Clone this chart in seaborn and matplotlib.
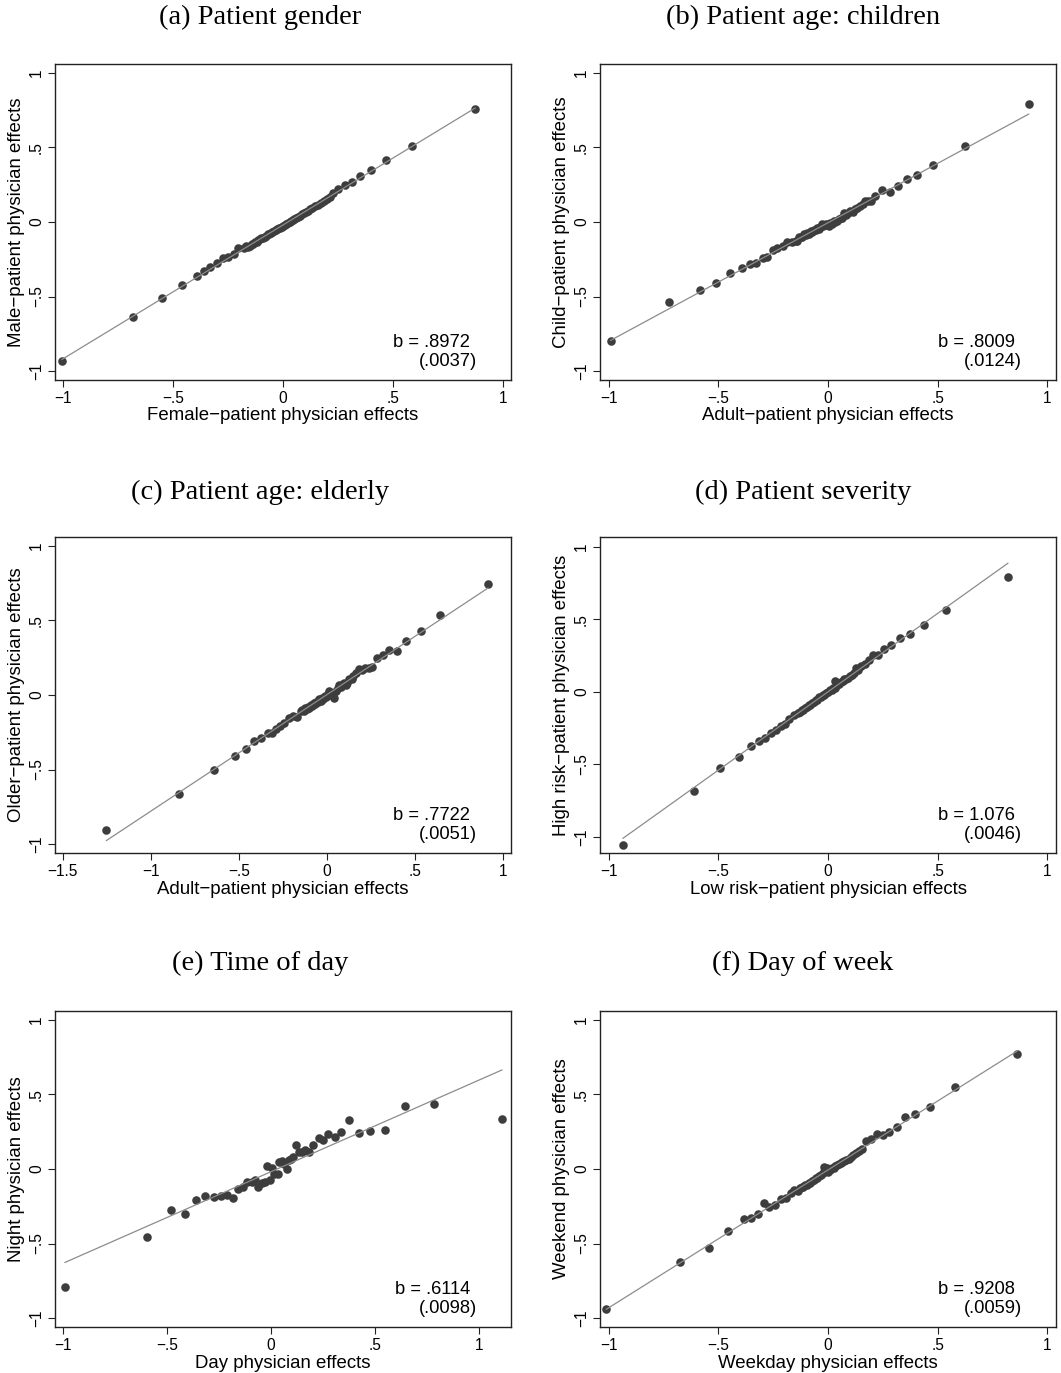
import matplotlib
matplotlib.use("Agg")
import numpy as np
import pandas as pd
import matplotlib.pyplot as plt
import seaborn as sns

sns.set_theme(style="ticks")
plt.rcParams["font.family"] = ["Liberation Sans", "DejaVu Sans"]
plt.rcParams.update({"text.color": "black", "axes.labelcolor": "black",
                     "xtick.color": "black", "ytick.color": "black"})

# ---- data ---------------------------------------------------------------
# (a) patient gender
a_x = [-1.005, -0.681, -0.548, -0.461, -0.393, -0.358, -0.331, -0.300, -0.272, -0.249, -0.223, -0.203, -0.178, -0.167,
       -0.158, -0.150, -0.142, -0.135, -0.128, -0.120, -0.113, -0.106, -0.098, -0.090, -0.083, -0.076, -0.069, -0.062,
       -0.055, -0.048, -0.041, -0.034, -0.027, -0.020, -0.013, -0.006, 0.001, 0.008, 0.015, 0.022, 0.030, 0.037, 0.044,
       0.052, 0.060, 0.068, 0.076, 0.085, 0.094, 0.103, 0.113, 0.123, 0.134, 0.146, 0.158, 0.172, 0.186, 0.200, 0.212,
       0.225, 0.252, 0.281, 0.313, 0.351, 0.402, 0.467, 0.586, 0.874]
a_y = [-0.931, -0.635, -0.510, -0.425, -0.365, -0.331, -0.304, -0.277, -0.244, -0.237, -0.213, -0.177, -0.172, -0.163,
       -0.168, -0.158, -0.150, -0.146, -0.137, -0.131, -0.124, -0.117, -0.110, -0.106, -0.098, -0.091, -0.083, -0.080,
       -0.074, -0.066, -0.061, -0.054, -0.050, -0.043, -0.037, -0.031, -0.026, -0.017, -0.011, -0.004, 0.001, 0.009, 0.013,
       0.022, 0.028, 0.036, 0.041, 0.051, 0.058, 0.068, 0.075, 0.086, 0.093, 0.106, 0.115, 0.130, 0.140, 0.155, 0.168,
       0.195, 0.224, 0.248, 0.268, 0.311, 0.351, 0.418, 0.512, 0.761]

# (b) patient age: children
b_x = [-0.992, -0.723, -0.586, -0.512, -0.445, -0.393, -0.358, -0.330, -0.297, -0.277, -0.251, -0.231, -0.203, -0.185,
       -0.162, -0.147,
       -0.140, -0.131, -0.124, -0.117, -0.109, -0.101, -0.094, -0.086, -0.078, -0.071, -0.064, -0.057, -0.050, -0.043,
       -0.036, -0.029, -0.022, -0.014, -0.007, 0.003, 0.010, 0.018, 0.026, 0.034, 0.041, 0.050, 0.058, 0.066, 0.075,
       0.083, 0.092, 0.102, 0.112, 0.122, 0.134, 0.146, 0.158, 0.171, 0.182, 0.194, 0.213,
       0.246, 0.283, 0.320, 0.361, 0.408, 0.477, 0.625, 0.916]
b_y = [-0.796, -0.539, -0.454, -0.412, -0.342, -0.309, -0.280, -0.275, -0.242, -0.237, -0.186, -0.174, -0.159, -0.136,
       -0.136, -0.125,
       -0.125, -0.102, -0.098, -0.100, -0.080, -0.088, -0.075, -0.078, -0.060, -0.066, -0.055, -0.052, -0.040, -0.046,
       -0.035, -0.015, -0.028, -0.020, -0.014, -0.029, -0.005, -0.012, 0.004, -0.003, 0.006, 0.020, 0.030, 0.024, 0.058,
       0.045, 0.062, 0.072, 0.068, 0.085, 0.092, 0.108, 0.118, 0.142, 0.140, 0.139, 0.172,
       0.213, 0.201, 0.239, 0.291, 0.318, 0.380, 0.510, 0.790]

# (c) patient age: elderly
c_x = [-1.254, -0.839, -0.641, -0.522, -0.461, -0.414, -0.374, -0.338, -0.313, -0.290, -0.266, -0.243, -0.214, -0.192,
       -0.171, -0.148,
       -0.140, -0.132, -0.124, -0.116, -0.108, -0.100, -0.092, -0.084, -0.076, -0.068, -0.060, -0.052, -0.044, -0.036,
       -0.028, -0.020, -0.012, -0.004, 0.004, 0.012, 0.020, 0.028, 0.036, 0.050, 0.060, 0.070, 0.078, 0.098, 0.115,
       0.140, 0.150, 0.200,
       0.042, 0.089, 0.108, 0.127, 0.165, 0.184, 0.213, 0.237, 0.256, 0.285, 0.317, 0.351, 0.397, 0.450, 0.531, 0.643,
       0.915]
c_y = [-0.909, -0.664, -0.501, -0.412, -0.363, -0.310, -0.290, -0.258, -0.258, -0.229, -0.207, -0.185, -0.151, -0.140,
       -0.147, -0.107,
       -0.100, -0.108, -0.090, -0.095, -0.078, -0.084, -0.068, -0.072, -0.055, -0.062, -0.044, -0.046, -0.030, -0.038,
       -0.018, -0.024, -0.006, -0.012, 0.004, 0.024, 0.002, 0.012, 0.005, 0.030, 0.050, 0.064, 0.055, 0.082, 0.078,
       0.110, 0.128, 0.170,
       -0.018, 0.071, 0.065, 0.105, 0.149, 0.176, 0.178, 0.183, 0.187, 0.247, 0.267, 0.303, 0.298, 0.365, 0.430, 0.535,
       0.742]

# (d) patient severity
d_x = [-0.936, -0.612, -0.492, -0.405, -0.352, -0.313, -0.287, -0.261, -0.239, -0.216, -0.197, -0.177, -0.154, -0.136,
       -0.128, -0.120, -0.112, -0.104, -0.096, -0.088, -0.080, -0.072, -0.064, -0.056, -0.048, -0.040, -0.032, -0.024,
       -0.016, -0.008, 0.000, 0.008, 0.016, 0.024, 0.032, 0.040, 0.050, 0.060, 0.070, 0.080, 0.090, 0.100, 0.110, 0.120,
       0.138,
       0.034, 0.075, 0.128, 0.151, 0.167, 0.185, 0.205, 0.228, 0.255, 0.286, 0.330, 0.375, 0.436, 0.540, 0.821]
d_y = [-1.057, -0.683, -0.522, -0.448, -0.375, -0.340, -0.315, -0.280, -0.260, -0.234, -0.218, -0.186, -0.161, -0.143,
       -0.137, -0.122, -0.124, -0.108, -0.106, -0.091, -0.090, -0.074, -0.071, -0.056, -0.055, -0.038, -0.037, -0.022,
       -0.020, -0.005, -0.004, 0.012, 0.014, 0.030, 0.028, 0.048, 0.052, 0.068, 0.073, 0.090, 0.094, 0.112, 0.116, 0.132,
       0.150,
       0.074, 0.087, 0.163, 0.179, 0.195, 0.223, 0.253, 0.257, 0.292, 0.324, 0.368, 0.402, 0.464, 0.561, 0.793]

# (e) time of day
e_x = [-0.991, -0.597, -0.478, -0.412, -0.358, -0.318, -0.276, -0.241, -0.212, -0.181, -0.157, -0.136, -0.114, -0.093,
       -0.075, -0.063, -0.045, -0.027, -0.019, -0.005, 0.005, 0.016, 0.032, 0.037, 0.053, 0.064, 0.075, 0.085, 0.098,
       0.107, 0.120, 0.136, 0.149, 0.165, 0.181, 0.204, 0.229, 0.249, 0.273, 0.308, 0.338, 0.377, 0.422, 0.475, 0.550,
       0.643, 0.786, 1.111]
e_y = [-0.794, -0.455, -0.276, -0.299, -0.210, -0.178, -0.187, -0.178, -0.172, -0.194, -0.136, -0.120, -0.087, -0.087,
       -0.076, -0.120, -0.091, -0.087, 0.020, -0.071, 0.009, -0.031, -0.031, 0.045, 0.051, 0.036, 0.002, 0.062, 0.069,
       0.080, 0.158, 0.114, 0.114, 0.129, 0.114, 0.158, 0.210, 0.192, 0.236, 0.214, 0.247, 0.330, 0.241, 0.254, 0.259,
       0.421, 0.433, 0.337]

# (f) day of week
f_x = [-1.012, -0.676, -0.541, -0.454, -0.385, -0.350, -0.320, -0.292, -0.268, -0.240, -0.216, -0.191, -0.171, -0.156,
       -0.136,
       -0.128, -0.120, -0.112, -0.104, -0.096, -0.088, -0.080, -0.072, -0.064, -0.056, -0.048, -0.040, -0.032, -0.024,
       -0.018, -0.010, -0.004, 0.002, 0.010, 0.018, 0.026, 0.034, 0.042, 0.050, 0.058, 0.066, 0.074, 0.084, 0.094,
       0.104, 0.114, 0.126, 0.142, 0.155,
       0.173, 0.197, 0.223, 0.249, 0.280, 0.313, 0.352, 0.399, 0.466, 0.581, 0.864]
f_y = [-0.941, -0.624, -0.528, -0.415, -0.337, -0.332, -0.303, -0.225, -0.254, -0.239, -0.198, -0.192, -0.161, -0.143,
       -0.149,
       -0.130, -0.118, -0.122, -0.106, -0.104, -0.095, -0.094, -0.080, -0.076, -0.060, -0.062, -0.050, -0.040, -0.030,
       0.013, -0.010, 0.005, -0.020, -0.008, 0.005, 0.010, 0.022, 0.026, 0.034, 0.040, 0.046, 0.052, 0.060, 0.068,
       0.082, 0.092, 0.105, 0.118, 0.135,
       0.187, 0.203, 0.236, 0.225, 0.247, 0.285, 0.352, 0.366, 0.415, 0.553, 0.771]

titles = ["(a) Patient gender", "(b) Patient age: children", "(c) Patient age: elderly",
          "(d) Patient severity", "(e) Time of day", "(f) Day of week"]
xlabels = ["Female\u2212patient physician effects", "Adult\u2212patient physician effects",
           "Adult\u2212patient physician effects", "Low risk\u2212patient physician effects",
           "Day physician effects", "Weekday physician effects"]
ylabels = ["Male\u2212patient physician effects", "Child\u2212patient physician effects",
           "Older\u2212patient physician effects", "High risk\u2212patient physician effects",
           "Night physician effects", "Weekend physician effects"]
slopes = [".8972", ".8009", ".7722", "1.076", ".6114", ".9208"]
ses = ["(.0037)", "(.0124)", "(.0051)", "(.0046)", "(.0098)", "(.0059)"]
xticks = [[-1, -0.5, 0, 0.5, 1], [-1, -0.5, 0, 0.5, 1], [-1.5, -1, -0.5, 0, 0.5, 1],
          [-1, -0.5, 0, 0.5, 1], [-1, -0.5, 0, 0.5, 1], [-1, -0.5, 0, 0.5, 1]]
yticks = [-1, -0.5, 0, 0.5, 1]
xlims = [(-1.036, 1.036), (-1.04, 1.04), (-1.545, 1.045), (-1.04, 1.04), (-1.038, 1.154), (-1.04, 1.04)]
ylims = [(-1.06, 1.06), (-1.06, 1.06), (-1.06, 1.06), (-1.11, 1.067), (-1.06, 1.06), (-1.06, 1.06)]

xs = [a_x, b_x, c_x, d_x, e_x, f_x]
ys = [a_y, b_y, c_y, d_y, e_y, f_y]


def stata(v):
    s = f"{abs(v):g}"
    if s.startswith("0."):
        s = s[1:]
    return ("\u2212" + s) if v < 0 else s


W, H = 1061, 1373
fig = plt.figure(figsize=(W / 100, H / 100), dpi=100)
lefts, tops = [55, 600], [64, 537, 1011]
title_x, title_y = [260, 803], [17, 492, 963]

for i in range(6):
    col, row = i % 2, i // 2
    ax = fig.add_axes([lefts[col] / W, 1 - (tops[row] + 316) / H, 456 / W, 316 / H])
    assert len(xs[i]) == len(ys[i])
    df = pd.DataFrame({"x": xs[i], "y": ys[i]})
    sns.regplot(data=df, x="x", y="y", ci=None, ax=ax,
                scatter_kws=dict(s=38, color="#3d3d3d", linewidths=0, alpha=1, clip_on=False),
                line_kws=dict(color="#8c8c8c", lw=0.9))
    ax.set_xlim(*xlims[i])
    ax.set_ylim(*ylims[i])
    ax.set_xticks(xticks[i])
    ax.set_xticklabels([stata(v) for v in xticks[i]])
    ax.set_yticks(yticks)
    ax.set_yticklabels([stata(v) for v in yticks], rotation=90, va="center")
    ax.tick_params(direction="out", length=5, width=0.8, labelsize=11.2, color="#222222", pad=3)
    for sp in ax.spines.values():
        sp.set_visible(True)
        sp.set_linewidth(1.0)
        sp.set_color("#222222")
    ax.set_xlabel(xlabels[i], fontsize=13.4, labelpad=1)
    ax.set_ylabel(ylabels[i], fontsize=13.4, labelpad=3)
    ax.text(0.910, 0.120, "b = " + slopes[i], transform=ax.transAxes, ha="right", va="center", fontsize=13.2)
    ax.text(0.925, 0.060, ses[i], transform=ax.transAxes, ha="right", va="center", fontsize=13.2)
    fig.text(title_x[col] / W, 1 - title_y[row] / H, titles[i], ha="center", va="center",
             family="Liberation Serif", fontsize=20.5)

fig.savefig("out.png", dpi=100)
